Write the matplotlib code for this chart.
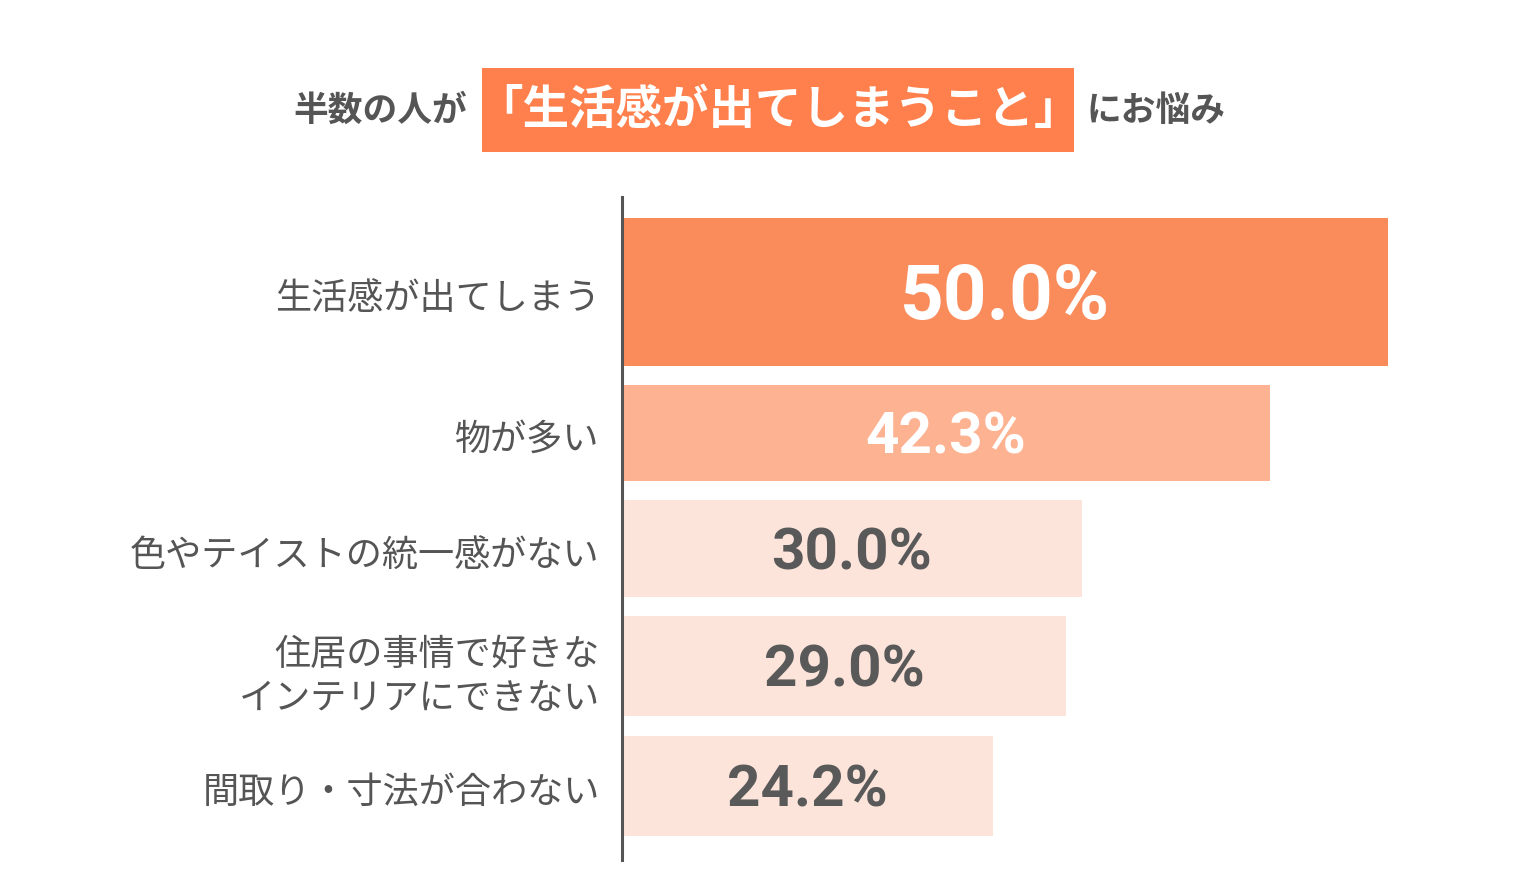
import matplotlib
matplotlib.use("Agg")
import matplotlib.pyplot as plt
from matplotlib.patches import Rectangle
from matplotlib.transforms import ScaledTranslation

plt.rcParams['font.family'] = ['Noto Sans CJK JP', 'DejaVu Sans']

# ---- data ----
categories = ["生活感が出てしまう", "物が多い", "色やテイストの統一感がない",
              "住居の事情で好きな\nインテリアにできない", "間取り・寸法が合わない"]
values = [50.0, 42.3, 30.0, 29.0, 24.2]
value_labels = ["50.0%", "42.3%", "30.0%", "29.0%", "24.2%"]
title_left = "半数の人が"
title_mid = "「生活感が出てしまうこと」"
title_right = "にお悩み"

# ---- layout / style ----
W, H = 1520, 886
bar_centers = [292, 433, 548.5, 666, 786]   # pixel rows
bar_heights = [148, 96, 97, 100, 100]
bar_colors = ["#FA8C5C", "#FDB292", "#FDE4DB", "#FDE4DB", "#FDE4DB"]
val_colors = ["white", "white", "#595959", "#595959", "#595959"]
val_sizes = [55, 42, 42, 42, 42]
text_gray = "#555555"

fig = plt.figure(figsize=(W / 100, H / 100), dpi=100)
ax_left, ax_right = 622, 1388
ax_top, ax_bot = 197, 860
ax = fig.add_axes([ax_left / W, 1 - ax_bot / H, (ax_right - ax_left) / W, (ax_bot - ax_top) / H])
ax.set_xlim(0, 50)
ax.set_ylim(ax_bot, ax_top)

ax.barh(bar_centers, values, height=bar_heights, color=bar_colors, align='center', zorder=1)

for y, v, lab, c, s in zip(bar_centers, values, value_labels, val_colors, val_sizes):
    cap_px = 0.711 * s * 100 / 72
    ax.text(v / 2, y + cap_px / 2, lab, ha='center', va='baseline', color=c, fontsize=s,
            fontfamily=['Roboto', 'DejaVu Sans'], fontweight='bold', zorder=3)

ax.set_yticks(bar_centers, labels=categories)
ax.tick_params(axis='y', length=0, pad=16, labelsize=26, labelcolor=text_gray)
ax.tick_params(axis='x', bottom=False, labelbottom=False)
shift = ScaledTranslation(0, -3 / 100, fig.dpi_scale_trans)
for lbl in ax.get_yticklabels():
    lbl.set_linespacing(1.3)
    lbl.set_transform(lbl.get_transform() + shift)
for side in ['top', 'right', 'bottom']:
    ax.spines[side].set_visible(False)
ax.spines['left'].set_color(text_gray)
ax.spines['left'].set_linewidth(2.2)
ax.spines['left'].set_zorder(4)

# ---- title ----
box = Rectangle((482 / W, 1 - 152 / H), (1074 - 482) / W, (152 - 68) / H,
                transform=fig.transFigure, facecolor="#FF804C", edgecolor='none')
fig.patches.append(box)
ty = 1 - 110 / H
fig.text(467 / W, ty, title_left, ha='right', va='center', fontsize=25,
         fontweight='bold', color=text_gray)
fig.text(779 / W, ty, title_mid, ha='center', va='center', fontsize=33.5,
         fontweight='bold', color='white')
fig.text(1086 / W, ty, title_right, ha='left', va='center', fontsize=25,
         fontweight='bold', color=text_gray)

fig.savefig("out.png", dpi=100, facecolor='white')
